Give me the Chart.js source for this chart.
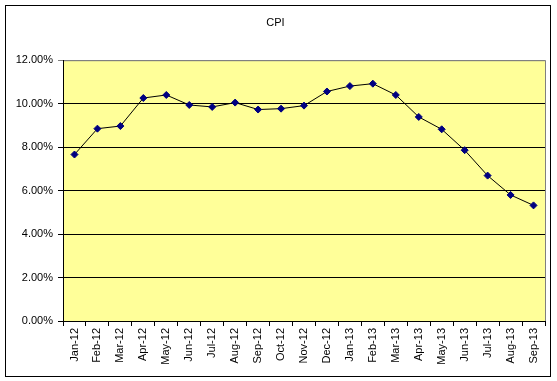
<!DOCTYPE html>
<html lang="en">
<head>
  <meta charset="UTF-8">
  <title>CPI</title>
  <script src="https://cdn.jsdelivr.net/npm/chart.js"></script>
  <style>
    html, body { margin: 0; padding: 0; background: #fff; }
    #wrap { width: 557px; height: 381px; position: relative; }
  </style>
</head>
<body>
<div id="wrap">
  <canvas id="cpiChart" width="557" height="381"></canvas>
</div>

<script>
  const months = ['Jan-12', 'Feb-12', 'Mar-12', 'Apr-12', 'May-12', 'Jun-12', 'Jul-12',
    'Aug-12', 'Sep-12', 'Oct-12', 'Nov-12', 'Dec-12', 'Jan-13', 'Feb-13', 'Mar-13',
    'Apr-13', 'May-13', 'Jun-13', 'Jul-13', 'Aug-13', 'Sep-13'];
  const cpi = [7.66, 8.85, 8.97, 10.26, 10.40, 9.94, 9.85, 10.05, 9.73, 9.77, 9.91,
    10.56, 10.81, 10.92, 10.40, 9.39, 8.82, 7.86, 6.69, 5.80, 5.32];
  const yTicks = [0, 2, 4, 6, 8, 10, 12];

  const font = { family: 'Liberation Sans, Arial, sans-serif', size: 11 };

  // yellow plot area + grey frame, black outer border
  const frame = {
    id: 'frame',
    beforeDraw(chart) {
      const { ctx, chartArea: a } = chart;
      ctx.save();
      ctx.fillStyle = '#FFFF99';
      ctx.fillRect(a.left, a.top, a.right - a.left, a.bottom - a.top);
      ctx.strokeStyle = '#808080';
      ctx.lineWidth = 1;
      ctx.strokeRect(a.left + 0.5, a.top + 0.5, a.right - a.left, a.bottom - a.top);
      ctx.strokeStyle = '#000';
      ctx.strokeRect(5.5, 5.5, 545, 371);
      ctx.restore();
    }
  };

  new Chart(document.getElementById('cpiChart'), {
    type: 'line',
    data: {
      labels: months,
      datasets: [{
        label: 'CPI',
        data: cpi,
        borderColor: '#000',
        borderWidth: 1,
        tension: 0,
        pointStyle: 'rectRot',
        pointRadius: 3.5,
        pointBackgroundColor: '#000080',
        pointBorderColor: '#000080',
        pointBorderWidth: 1
      }]
    },
    options: {
      responsive: false,
      animation: false,
      layout: { padding: { top: 0, left: 6, right: 12, bottom: 4 } },
      plugins: {
        legend: { display: false },
        tooltip: { enabled: false },
        title: {
          display: true,
          text: 'CPI',
          color: '#000',
          font: { family: font.family, size: 11, weight: 'normal', lineHeight: 1.2 },
          padding: { top: 16, bottom: 31 }
        }
      },
      scales: {
        x: {
          offset: true,
          grid: { offset: true, drawOnChartArea: false, drawTicks: true, tickLength: 5, color: '#000' },
          border: { color: '#000' },
          ticks: { color: '#000', font, minRotation: 90, maxRotation: 90, autoSkip: false, padding: 2 },
          afterFit(scale) { scale.height = 56; }
        },
        y: {
          min: 0,
          max: 12,
          afterBuildTicks(scale) { scale.ticks = yTicks.map(v => ({ value: v })); },
          grid: {
            color: c => (c.tick && c.tick.value === 12 ? '#808080' : '#000'),
            tickLength: 5
          },
          border: { color: '#000' },
          ticks: {
            color: '#000',
            font,
            padding: 5,
            callback: v => v.toFixed(2) + '%'
          },
          afterFit(scale) { scale.width = 57; }
        }
      }
    },
    plugins: [frame]
  });
</script>
</body>
</html>
